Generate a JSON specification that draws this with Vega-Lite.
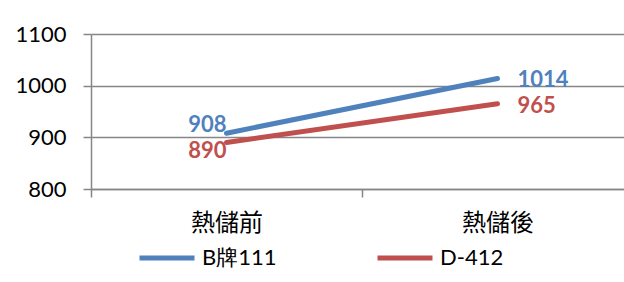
{
  "$schema": "https://vega.github.io/schema/vega-lite/v6.json",
  "width": 542,
  "height": 155,
  "autosize": {"type": "none"},
  "padding": {"left": 91, "top": 34, "right": 0, "bottom": 93},
  "background": "white",
  "config": {"view": {"stroke": null}},
  "data": {
    "values": [
      {"stage": "熱儲前", "series": "B牌111", "value": 908},
      {"stage": "熱儲後", "series": "B牌111", "value": 1014},
      {"stage": "熱儲前", "series": "D-412", "value": 890},
      {"stage": "熱儲後", "series": "D-412", "value": 965}
    ]
  },
  "encoding": {
    "x": {
      "field": "stage",
      "type": "nominal",
      "sort": ["熱儲前", "熱儲後"],
      "scale": {"type": "band", "paddingInner": 0, "paddingOuter": 0},
      "axis": {
        "title": null,
        "labelAngle": 0,
        "grid": false,
        "tickBand": "extent",
        "domainColor": "#868686",
        "domainWidth": 1.5,
        "tickColor": "#868686",
        "tickWidth": 1.5,
        "tickSize": 8,
        "labelFont": "Noto Sans CJK TC",
        "labelFontSize": 24,
        "labelColor": "#000000",
        "labelPadding": 14
      }
    },
    "y": {
      "field": "value",
      "type": "quantitative",
      "scale": {"domain": [800, 1100], "nice": false, "zero": false},
      "axis": {
        "title": null,
        "values": [800, 900, 1000, 1100],
        "format": "d",
        "grid": true,
        "gridColor": "#868686",
        "gridWidth": 1.5,
        "domainColor": "#868686",
        "domainWidth": 1.5,
        "tickColor": "#868686",
        "tickWidth": 1.5,
        "tickSize": 8,
        "labelFont": "Lato",
        "labelFontSize": 22,
        "labelColor": "#000000",
        "labelPadding": 17
      }
    }
  },
  "layer": [
    {
      "mark": {"type": "line", "strokeWidth": 5, "strokeCap": "round"},
      "encoding": {
        "color": {
          "field": "series",
          "type": "nominal",
          "scale": {"domain": ["B牌111", "D-412"], "range": ["#4F81BD", "#C0504D"]},
          "legend": {
            "title": null,
            "orient": "none",
            "legendX": 46,
            "legendY": 194,
            "direction": "horizontal",
            "columns": 2,
            "columnPadding": 90,
            "symbolType": "stroke",
            "symbolSize": 3025,
            "symbolStrokeWidth": 5,
            "labelOffset": 5,
            "labelFont": "Lato",
            "labelFontSize": 22,
            "labelColor": "#000000",
            "padding": 0
          }
        }
      }
    },
    {
      "transform": [{"filter": "datum.stage == '熱儲前' && datum.series == 'B牌111'"}],
      "mark": {"type": "text", "align": "right", "baseline": "middle", "dx": 0, "dy": -8, "font": "Lato", "fontSize": 22, "fontWeight": "bold"},
      "encoding": {
        "text": {"field": "value", "type": "quantitative"},
        "fill": {"field": "series", "type": "nominal", "scale": {"domain": ["B牌111", "D-412"], "range": ["#4F81BD", "#C0504D"]}, "legend": null}
      }
    },
    {
      "transform": [{"filter": "datum.stage == '熱儲前' && datum.series == 'D-412'"}],
      "mark": {"type": "text", "align": "right", "baseline": "middle", "dx": 0, "dy": 8, "font": "Lato", "fontSize": 22, "fontWeight": "bold"},
      "encoding": {
        "text": {"field": "value", "type": "quantitative"},
        "fill": {"field": "series", "type": "nominal", "scale": {"domain": ["B牌111", "D-412"], "range": ["#4F81BD", "#C0504D"]}, "legend": null}
      }
    },
    {
      "transform": [{"filter": "datum.stage == '熱儲後'"}],
      "mark": {"type": "text", "align": "left", "baseline": "middle", "dx": 20, "dy": 2, "font": "Lato", "fontSize": 22, "fontWeight": "bold"},
      "encoding": {
        "text": {"field": "value", "type": "quantitative"},
        "fill": {"field": "series", "type": "nominal", "scale": {"domain": ["B牌111", "D-412"], "range": ["#4F81BD", "#C0504D"]}, "legend": null}
      }
    }
  ]
}
